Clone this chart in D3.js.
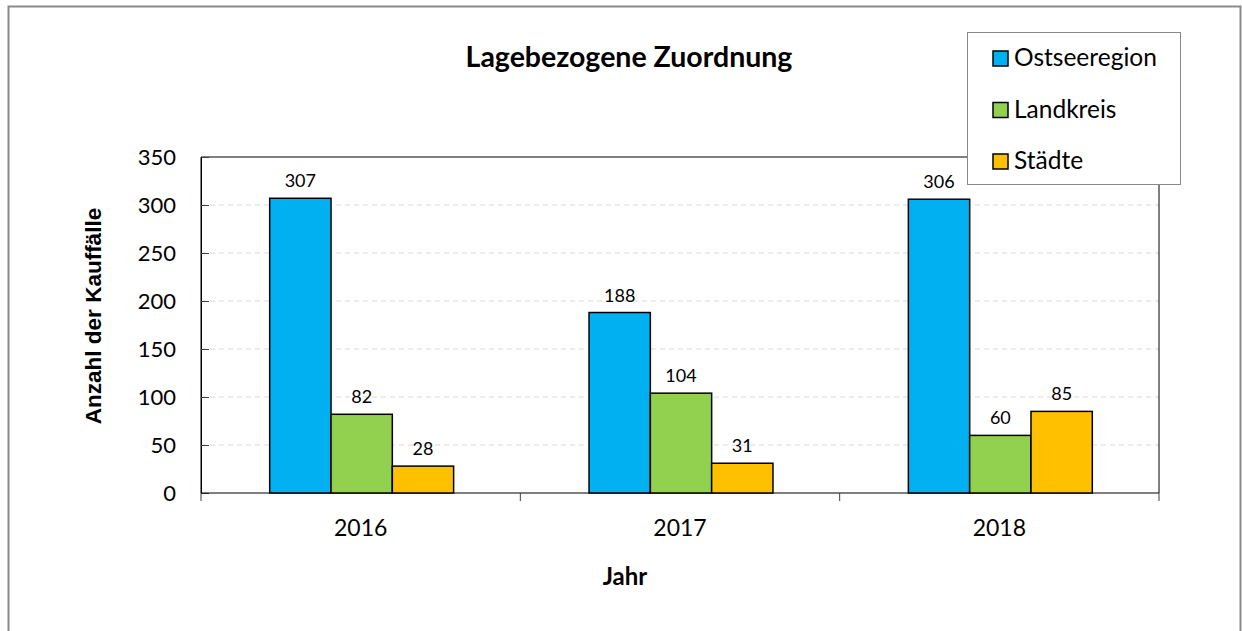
<!DOCTYPE html>
<html>
<head>
<meta charset="utf-8">
<script src="https://cdn.jsdelivr.net/npm/d3@7"></script>
<style>
  body { margin: 0; background: #fff; }
  svg text { font-family: Lato, "Open Sans", sans-serif; fill: #000; }
</style>
</head>
<body>
<svg id="chart" width="1242" height="631"></svg>
<script>
var years = ["2016", "2017", "2018"];
var seriesNames = ["Ostseeregion", "Landkreis", "Städte"];
var ostsee = [307, 188, 306];
var landkreis = [82, 104, 60];
var staedte = [28, 31, 85];
var yTicks = [0, 50, 100, 150, 200, 250, 300, 350];
var colors = ["#00B0F0", "#92D050", "#FFC000"];

var svg = d3.select("#chart");
var margin = { left: 201, top: 157, right: 83, bottom: 138 };
var width = 1242 - margin.left - margin.right;
var height = 631 - margin.top - margin.bottom;

// outer frame
svg.append("rect")
    .attr("x", 8.5).attr("y", 6.5)
    .attr("width", 1232).attr("height", 640)
    .attr("fill", "none").attr("stroke", "#898989").attr("stroke-width", 2);

var g = svg.append("g")
    .attr("transform", "translate(" + margin.left + "," + margin.top + ")");

var x0 = d3.scaleBand().domain(years).range([0, width]);
var x1 = d3.scaleBand().domain(seriesNames)
    .range([0, x0.bandwidth() * 0.576]);
var y = d3.scaleLinear().domain([0, 350]).range([height, 0]);

// gridlines
g.selectAll(".grid").data(yTicks.slice(1, -1)).enter().append("line")
    .attr("x1", 0).attr("x2", width)
    .attr("y1", function (d) { return y(d); })
    .attr("y2", function (d) { return y(d); })
    .attr("stroke", "#d9d9d9").attr("stroke-dasharray", "5,4");

// plot frame
g.append("path")
    .attr("d", "M0," + height + "V0H" + width + "V" + height)
    .attr("fill", "none").attr("stroke", "#000").attr("stroke-width", 1);

var yAxis = d3.axisLeft(y).tickValues(yTicks).tickSize(-8).tickPadding(25);
var ya = g.append("g").call(yAxis);
ya.select(".domain").attr("stroke", "#000");
ya.selectAll(".tick line").attr("stroke", "#404040");
ya.selectAll("text").style("font-size", "22px");

// x axis with separator ticks
var xa = g.append("g").attr("transform", "translate(0," + height + ")");
xa.append("line").attr("x1", 0).attr("x2", width).attr("stroke", "#000");
xa.selectAll(".sep").data(d3.range(years.length + 1)).enter().append("line")
    .attr("x1", function (i) { return i * x0.bandwidth(); })
    .attr("x2", function (i) { return i * x0.bandwidth(); })
    .attr("y1", 0).attr("y2", 8)
    .attr("stroke", "#404040");
xa.selectAll(".lbl").data(years).enter().append("text")
    .attr("x", function (d) { return x0(d) + x0.bandwidth() / 2; })
    .attr("y", 43)
    .attr("text-anchor", "middle")
    .style("font-size", "23px")
    .text(function (d) { return d; });

var rows = years.map(function (yr, i) {
    return { year: yr, values: [ostsee[i], landkreis[i], staedte[i]] };
});

var groupOffset = (x0.bandwidth() - x1.range()[1]) / 2 + 1;
var grp = g.selectAll(".grp").data(rows).enter().append("g")
    .attr("transform", function (d) { return "translate(" + (x0(d.year) + groupOffset) + ",0)"; });

grp.selectAll("rect").data(function (d) {
    return d.values.map(function (v, k) { return { name: seriesNames[k], v: v, k: k }; });
}).enter().append("rect")
    .attr("x", function (d) { return x1(d.name); })
    .attr("y", function (d) { return y(d.v); })
    .attr("width", x1.bandwidth())
    .attr("height", function (d) { return height - y(d.v); })
    .attr("fill", function (d) { return colors[d.k]; })
    .attr("stroke", "#000").attr("stroke-width", 1.5);

grp.selectAll(".val").data(function (d) {
    return d.values.map(function (v, k) { return { name: seriesNames[k], v: v }; });
}).enter().append("text")
    .attr("x", function (d) { return x1(d.name) + x1.bandwidth() / 2; })
    .attr("y", function (d) { return y(d.v) - 11; })
    .attr("text-anchor", "middle")
    .style("font-size", "18px")
    .text(function (d) { return d.v; });

// titles
svg.append("text").attr("x", 629).attr("y", 67)
    .attr("text-anchor", "middle")
    .style("font-size", "28.5px").style("font-weight", "bold")
    .text("Lagebezogene Zuordnung");

svg.append("text").attr("x", 625).attr("y", 585)
    .attr("text-anchor", "middle")
    .style("font-size", "24px").style("font-weight", "bold")
    .text("Jahr");

svg.append("text")
    .attr("transform", "translate(101,316) rotate(-90)")
    .attr("text-anchor", "middle")
    .style("font-family", "'Liberation Sans', Arial, sans-serif")
    .style("font-size", "22.5px").style("font-weight", "bold")
    .text("Anzahl der Kauffälle");

// legend
var leg = svg.append("g").attr("transform", "translate(967,32)");
leg.append("rect").attr("x", 0.5).attr("y", 0.5)
    .attr("width", 213).attr("height", 152)
    .attr("fill", "#fff").attr("stroke", "#898989");
var item = leg.selectAll(".item").data(seriesNames).enter().append("g")
    .attr("transform", function (d, i) { return "translate(26," + (26 + i * 51.5) + ")"; });
item.append("rect").attr("x", 0).attr("y", -7)
    .attr("width", 15).attr("height", 15)
    .attr("fill", function (d, i) { return colors[i]; })
    .attr("stroke", "#000").attr("stroke-width", 1.5);
item.append("text").attr("x", 21).attr("y", 8)
    .style("font-size", "24.5px")
    .text(function (d) { return d; });
</script>
</body>
</html>
